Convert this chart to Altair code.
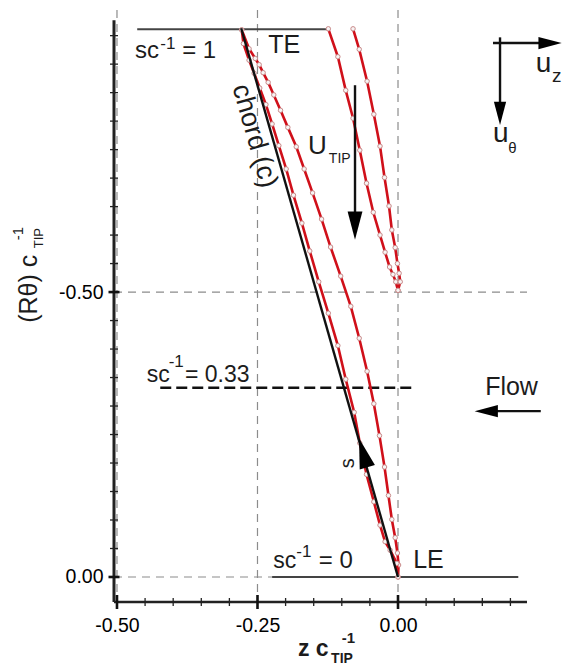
import altair as alt
import pandas as pd

# Blade profile curves (z/c_tip, R theta/c_tip)
tip_upper_z = [0.0, 0.001, -0.001, -0.005, -0.011, -0.017, -0.024, -0.033, -0.043, -0.055, -0.069, -0.084, -0.102, -0.120, -0.136, -0.152, -0.167, -0.181, -0.196, -0.209, -0.221, -0.231, -0.240, -0.247, -0.254, -0.265, -0.278]
tip_upper_t = [0.0, -0.021, -0.042, -0.069, -0.101, -0.143, -0.193, -0.248, -0.304, -0.361, -0.419, -0.475, -0.528, -0.579, -0.628, -0.674, -0.716, -0.755, -0.789, -0.819, -0.846, -0.868, -0.885, -0.899, -0.910, -0.927, -0.960]
tip_lower_z = [0.0, -0.002, -0.014, -0.023, -0.032, -0.043, -0.056, -0.068, -0.078, -0.093, -0.107, -0.124, -0.141, -0.157, -0.171, -0.186, -0.199, -0.212, -0.224, -0.235, -0.246, -0.256, -0.265, -0.275, -0.278]
tip_lower_t = [0.0, -0.024, -0.047, -0.062, -0.091, -0.132, -0.180, -0.235, -0.289, -0.347, -0.406, -0.463, -0.518, -0.572, -0.621, -0.670, -0.716, -0.757, -0.795, -0.829, -0.858, -0.884, -0.907, -0.936, -0.960]
next_lower_z = [-0.124, -0.107, -0.093, -0.080, -0.068, -0.056, -0.044, -0.032, -0.023, -0.015, -0.009, -0.004, 0.0]
next_lower_t = [-0.962, -0.913, -0.854, -0.805, -0.749, -0.691, -0.640, -0.600, -0.570, -0.544, -0.531, -0.518, -0.503]
next_upper_z = [-0.080, -0.069, -0.055, -0.043, -0.032, -0.024, -0.016, -0.011, -0.005, -0.001, 0.002, 0.004, 0.0]
next_upper_t = [-0.962, -0.926, -0.870, -0.812, -0.756, -0.701, -0.651, -0.609, -0.578, -0.550, -0.533, -0.518, -0.503]
chord_z = [0.0, -0.279]
chord_t = [0.0, -0.963]

# Reference lines
grid_x1 = [-0.5053, -0.5053, -0.5, -0.25, 0.0]
grid_x2 = [0.2295, -0.224, -0.5, -0.25, 0.0]
grid_y1 = [-0.5, 0.0, -0.995, -0.995, -0.995]
grid_y2 = [-0.5, 0.0, 0.0439, 0.0439, 0.0439]
span_x1 = [-0.464, -0.224]
span_x2 = [-0.123, 0.214]
span_y = [-0.961, 0.0]
mid_x1 = [-0.423]
mid_x2 = [0.032]
mid_y = [-0.332]

# Arrows
shaft_x1 = [-0.0765, 0.169, 0.1815, 0.254]
shaft_x2 = [-0.0765, 0.26, 0.1815, 0.155]
shaft_y1 = [-0.863, -0.937, -0.947, -0.291]
shaft_y2 = [-0.618, -0.937, -0.82, -0.291]
head_z = [-0.0765, 0.2705, 0.1815, 0.157, -0.062]
head_t = [-0.6165, -0.937, -0.8135, -0.291, -0.218]
head_angle = [0, 270, 0, 90, 164]
head_size = [220, 150, 150, 150, 250]

# Tick positions
x_major = [-0.5, -0.25, 0.0]
x_minor = [-0.45, -0.40, -0.35, -0.30, -0.20, -0.15, -0.10, -0.05, 0.05, 0.10, 0.15, 0.20]
y_major = [-0.5, 0.0]
y_minor = [-0.95, -0.90, -0.85, -0.80, -0.75, -0.70, -0.65, -0.60, -0.55, -0.45, -0.40, -0.35, -0.30, -0.25, -0.20, -0.15, -0.10, -0.05]
x_axis_y = 0.0439
y_axis_x = -0.5053
y_axis_top = -0.977
x_axis_right = 0.2295

# Annotation text
txt_label = ["sc", "-1", "= 1", "TE", "chord (c)", "U", "TIP", "sc", "-1", "= 0.33", "Flow", "sc", "-1", "= 0", "LE", "u", "z", "u", "θ", "s", "(Rθ) c", "TIP", "-1"]
txt_z = [-0.468, -0.423, -0.384, -0.231, -0.295, -0.160, -0.123, -0.447, -0.408, -0.379, 0.155, -0.222, -0.181, -0.141, 0.027, 0.245, 0.274, 0.169, 0.196, -0.078, -0.642, -0.632, -0.667]
txt_t = [-0.911, -0.926, -0.911, -0.919, -0.860, -0.742, -0.726, -0.342, -0.368, -0.342, -0.319, -0.016, -0.035, -0.016, -0.016, -0.886, -0.868, -0.763, -0.744, -0.191, -0.446, -0.577, -0.591]
txt_size = [24, 17, 24, 25, 27, 26, 14, 23, 17, 23, 25, 23, 17, 24, 25, 28, 19, 28, 15, 20, 25, 13, 15]
txt_angle = [0, 0, 0, 0, 74, 0, 0, 0, 0, 0, 0, 0, 0, 0, 0, 0, 0, 0, 0, 270, 270, 270, 270]
xt_label = ["z c", "TIP", "-1"]
xt_z = [-0.178, -0.119, -0.100]
xt_t = [0.139, 0.151, 0.116]
xt_size = [23, 14, 15]

FONT = "Liberation Sans"
RED = "#d0101a"
LABEL_EXPR = "datum.value < 0 ? '-' + format(-datum.value, '.2f') : format(datum.value, '.2f')"
xs = alt.Scale(domain=[-0.5053, 0.2295], nice=False, zero=False)
ys = alt.Scale(domain=[-0.995, 0.0439], nice=False, zero=False, reverse=True)
X = alt.X("z:Q", scale=xs, title=None,
          axis=alt.Axis(values=x_major, labelExpr=LABEL_EXPR, grid=False, domain=False, ticks=False,
                        labelFontSize=19.5, labelFont=FONT, labelColor="#000", labelPadding=14))
Y = alt.Y("t:Q", scale=ys, title=None,
          axis=alt.Axis(values=y_major, labelExpr=LABEL_EXPR, grid=False, domain=False, ticks=False,
                        labelFontSize=19.5, labelFont=FONT, labelColor="#000", labelPadding=11))


def segs(x1, x2, y1, y2):
    return pd.DataFrame({"z": x1, "z2": x2, "t": y1, "t2": y2})


grid = alt.Chart(segs(grid_x1, grid_x2, grid_y1, grid_y2)).mark_rule(
    color="#8c8c8c", strokeWidth=1.2, strokeDash=[8, 6]
).encode(x=X, x2="z2:Q", y=Y, y2="t2:Q")

spans = alt.Chart(pd.DataFrame({"z": span_x1, "z2": span_x2, "t": span_y})).mark_rule(
    color="#444444", strokeWidth=2
).encode(x=X, x2="z2:Q", y=Y)

mid = alt.Chart(pd.DataFrame({"z": mid_x1, "z2": mid_x2, "t": mid_y})).mark_rule(
    color="#111111", strokeWidth=2.5, strokeDash=[11, 5]
).encode(x=X, x2="z2:Q", y=Y)

layers = [grid, spans, mid]

for zs, ts in [(tip_upper_z, tip_upper_t), (tip_lower_z, tip_lower_t),
               (next_lower_z, next_lower_t), (next_upper_z, next_upper_t)]:
    d = pd.DataFrame({"z": zs, "t": ts, "i": list(range(len(zs)))})
    layers.append(alt.Chart(d).mark_line(color=RED, strokeWidth=2.6).encode(x=X, y=Y, order="i:Q"))
    layers.append(alt.Chart(d).mark_point(filled=True, fill="#f7f4f4", stroke="#c98a8a", strokeWidth=1, size=20, opacity=1).encode(x=X, y=Y))

layers.append(alt.Chart(pd.DataFrame({"z": chord_z, "t": chord_t})).mark_line(color="#111111", strokeWidth=2.4).encode(x=X, y=Y))

shafts = segs(shaft_x1, shaft_x2, shaft_y1, shaft_y2)
layers.append(alt.Chart(shafts).mark_rule(color="#111111", strokeWidth=2.4).encode(x=X, x2="z2:Q", y=Y, y2="t2:Q"))
heads = pd.DataFrame({"z": head_z, "t": head_t, "a": head_angle, "s": head_size})
layers.append(alt.Chart(heads).mark_point(
    shape="M-1,-1.9L1,-1.9L0,1.9Z", filled=True, color="#000000", opacity=1
).encode(x=X, y=Y, angle=alt.Angle("a:Q", scale=None), size=alt.Size("s:Q", scale=None)))

# Axis lines and ticks
layers.append(alt.Chart(pd.DataFrame({"z": [y_axis_x], "t": [y_axis_top], "t2": [x_axis_y]})).mark_rule(
    color="#222222", strokeWidth=3).encode(x=X, y=Y, y2="t2:Q"))
layers.append(alt.Chart(pd.DataFrame({"z": [y_axis_x], "z2": [x_axis_right], "t": [x_axis_y]})).mark_rule(
    color="#222222", strokeWidth=2.6).encode(x=X, x2="z2:Q", y=Y))
layers.append(alt.Chart(pd.DataFrame({"z": x_minor, "t": [x_axis_y] * len(x_minor)})).mark_tick(
    orient="vertical", size=8, thickness=1.3, color="#222222", opacity=1).encode(x=X, y=Y))
layers.append(alt.Chart(pd.DataFrame({"z": x_major, "t": [x_axis_y] * len(x_major)})).mark_tick(
    orient="vertical", size=14, thickness=2.6, color="#111111", opacity=1).encode(x=X, y=Y))
layers.append(alt.Chart(pd.DataFrame({"z": [y_axis_x] * len(y_minor), "t": y_minor})).mark_tick(
    orient="horizontal", size=8, thickness=1.3, color="#222222", opacity=1).encode(x=X, y=Y))
layers.append(alt.Chart(pd.DataFrame({"z": [y_axis_x] * len(y_major), "t": y_major})).mark_tick(
    orient="horizontal", size=11, thickness=2.6, color="#111111", opacity=1).encode(x=X, y=Y))

# Text
txt = pd.DataFrame({"z": txt_z, "t": txt_t, "label": txt_label, "fs": txt_size, "a": txt_angle})
layers.append(alt.Chart(txt).mark_text(align="left", baseline="alphabetic", font=FONT, color="#1c1c1c").encode(
    x=X, y=Y, text="label:N",
    size=alt.Size("fs:Q", scale=None), angle=alt.Angle("a:Q", scale=None)))
xt = pd.DataFrame({"z": xt_z, "t": xt_t, "label": xt_label, "fs": xt_size})
layers.append(alt.Chart(xt).mark_text(align="left", baseline="alphabetic", font=FONT, fontWeight="bold", color="#1c1c1c").encode(
    x=X, y=Y, text="label:N", size=alt.Size("fs:Q", scale=None)))

chart = alt.layer(*layers).properties(
    width=413, height=592,
    autosize=alt.AutoSizeParams(type="none"),
    padding={"left": 106, "top": 2, "right": 35, "bottom": 63},
    background="white",
).configure_view(stroke=None)

chart.save("out.html", embed_options={"renderer": "svg", "actions": False})
